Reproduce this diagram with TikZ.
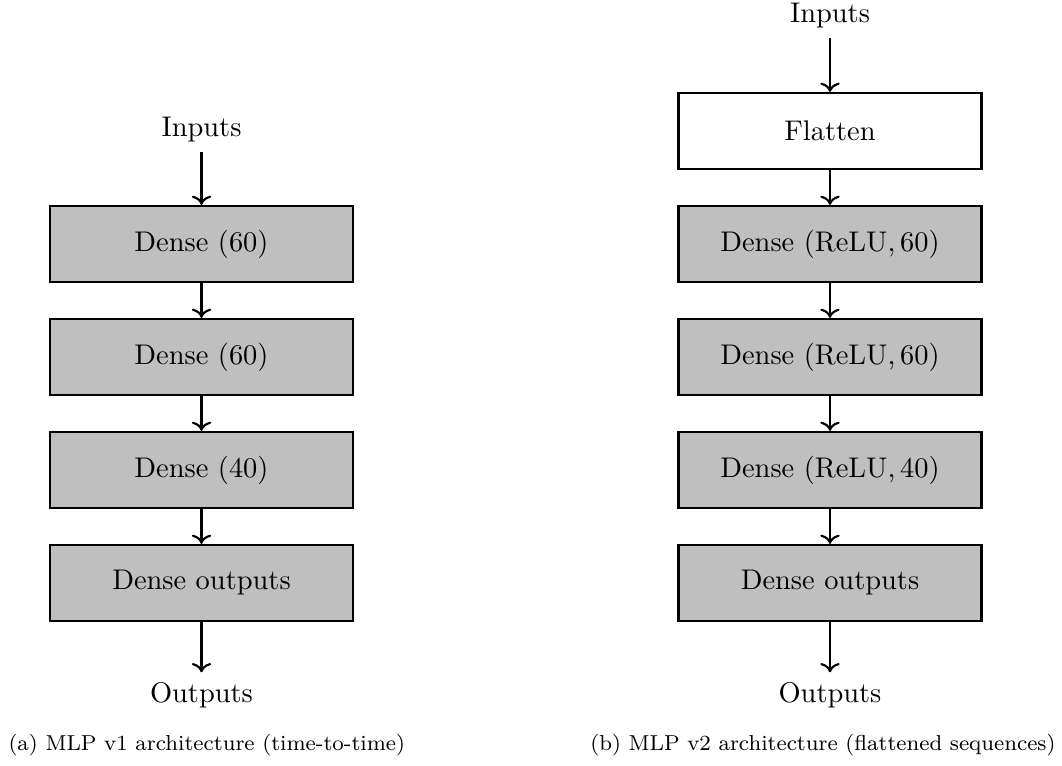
\documentclass[tikz,border=0pt]{standalone}
\usetikzlibrary{arrows.meta}
\begin{document}
\begin{tikzpicture}[x=0.3517pt,y=-0.3517pt,
  layer/.style={draw=black, line width=0.8pt, fill=gray!50, minimum width=106.6pt, minimum height=26.7pt, inner sep=0pt},
  plainlayer/.style={layer, fill=white},
  lbl/.style={inner sep=3.3pt},
  flow/.style={->, line width=0.75pt},
  captext/.style={font=\fontsize{7.6}{9}\selectfont, inner sep=0pt}]
\useasboundingbox (0,0) rectangle (1062,765);
% left
\node[lbl] (inA) at (201.5,130) {Inputs};
\node[layer] (a1) at (201.5,244) {Dense (60)};
\node[layer] (a2) at (201.5,357) {Dense (60)};
\node[layer] (a3) at (201.5,470) {Dense (40)};
\node[layer] (a4) at (201.5,583) {Dense outputs};
\node[lbl] (outA) at (201.5,695) {Outputs};
\draw[flow] (inA) -- (a1);
\draw[flow] (a1) -- (a2);
\draw[flow] (a2) -- (a3);
\draw[flow] (a3) -- (a4);
\draw[flow] (a4) -- (outA);
% right
\node[lbl] (inB) at (830,16) {Inputs};
\node[plainlayer] (b0) at (830,131) {Flatten};
\node[layer] (b1) at (830,244) {Dense (ReLU,\,60)};
\node[layer] (b2) at (830,357) {Dense (ReLU,\,60)};
\node[layer] (b3) at (830,470) {Dense (ReLU,\,40)};
\node[layer] (b4) at (830,583) {Dense outputs};
\node[lbl] (outB) at (830,695) {Outputs};
\draw[flow] (inB) -- (b0);
\draw[flow] (b0) -- (b1);
\draw[flow] (b1) -- (b2);
\draw[flow] (b2) -- (b3);
\draw[flow] (b3) -- (b4);
\draw[flow] (b4) -- (outB);
% captions
\node[captext, anchor=base west] (capA) at (8,750) {(a) MLP v1 architecture (time-to-time)};
\node[captext, anchor=base east] (capB) at (1056,750) {(b) MLP v2 architecture (flattened sequences)};
\end{tikzpicture}
\end{document}
